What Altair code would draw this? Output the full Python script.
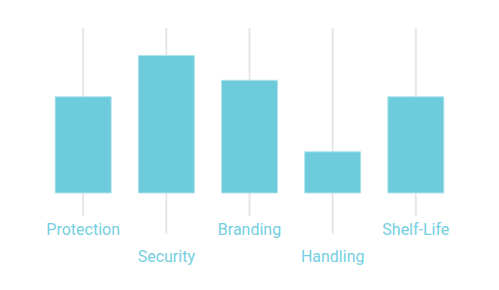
import altair as alt
import pandas as pd

categories = ["Protection", "Security", "Branding", "Handling", "Shelf-Life"]
values = [3.5, 5, 4.1, 1.5, 3.5]
row = [0, 1, 0, 1, 0]  # label row (staggered)

df = pd.DataFrame({"cat": categories, "value": values, "row": row})

x = alt.X("cat:N", sort=categories, axis=None,
          scale=alt.Scale(type="point", padding=1))
y = alt.Y("value:Q", axis=None,
          scale=alt.Scale(domain=[0, 6], range=[193, 28]))

base = alt.Chart(df)

rules_top = base.transform_filter("datum.row == 0").mark_rule(
    color="#e6e6e6", strokeWidth=2
).encode(x=x, y=alt.value(28), y2=alt.value(216))

rules_bot = base.transform_filter("datum.row == 1").mark_rule(
    color="#e6e6e6", strokeWidth=2
).encode(x=x, y=alt.value(28), y2=alt.value(234))

bars = base.mark_bar(size=56, color="#6dcbdb", stroke="#b0e3ec", strokeWidth=1).encode(
    x=x, y=y
)

labels_top = base.transform_filter("datum.row == 0").mark_text(
    font="Roboto", fontSize=16, color="#74cfdf", baseline="middle"
).encode(x=x, y=alt.value(230), text="cat:N")

labels_bot = base.transform_filter("datum.row == 1").mark_text(
    font="Roboto", fontSize=16, color="#74cfdf", baseline="middle"
).encode(x=x, y=alt.value(257), text="cat:N")

chart = alt.layer(rules_top, rules_bot, bars, labels_top, labels_bot).properties(
    width=499, height=290, autosize=alt.AutoSizeParams(type="none"), padding=0,
    background="white"
).configure_view(stroke=None)

chart.save("out.html", embed_options={"renderer": "svg", "actions": False})
